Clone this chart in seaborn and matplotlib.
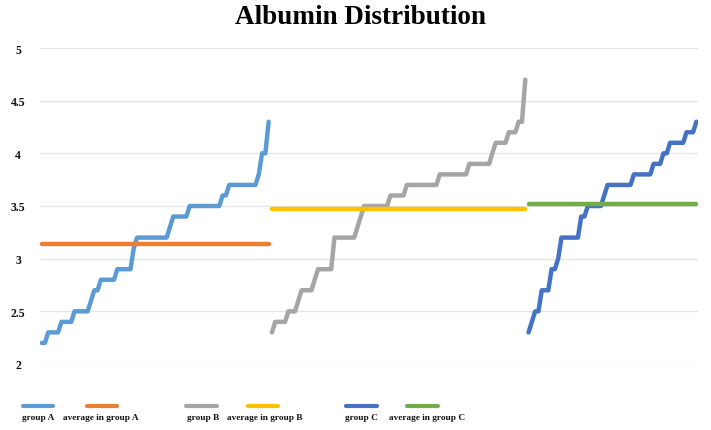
import matplotlib
matplotlib.use("Agg")
import matplotlib.pyplot as plt
import pandas as pd
import seaborn as sns
from matplotlib.lines import Line2D

# ---- data ----
group_a = [2.2, 2.2,
           2.3, 2.3, 2.3, 2.3,
           2.4, 2.4, 2.4, 2.4,
           2.5, 2.5, 2.5, 2.5, 2.5,
           2.6,
           2.7, 2.7,
           2.8, 2.8, 2.8, 2.8, 2.8,
           2.9, 2.9, 2.9, 2.9, 2.9,
           3.1,
           3.2, 3.2, 3.2, 3.2, 3.2, 3.2, 3.2, 3.2, 3.2, 3.2,
           3.3,
           3.4, 3.4, 3.4, 3.4, 3.4,
           3.5, 3.5, 3.5, 3.5, 3.5, 3.5, 3.5, 3.5, 3.5, 3.5,
           3.6, 3.6,
           3.7, 3.7, 3.7, 3.7, 3.7, 3.7, 3.7, 3.7, 3.7,
           3.8,
           4.0, 4.0,
           4.3]
group_b = [2.3,
           2.4, 2.4, 2.4, 2.4,
           2.5, 2.5, 2.5,
           2.6,
           2.7, 2.7, 2.7, 2.7,
           2.8,
           2.9, 2.9, 2.9, 2.9, 2.9,
           3.2, 3.2, 3.2, 3.2, 3.2, 3.2, 3.2,
           3.3, 3.4,
           3.5, 3.5, 3.5, 3.5, 3.5, 3.5, 3.5, 3.5,
           3.6, 3.6, 3.6, 3.6, 3.6,
           3.7, 3.7, 3.7, 3.7, 3.7, 3.7, 3.7, 3.7, 3.7, 3.7,
           3.8, 3.8, 3.8, 3.8, 3.8, 3.8, 3.8, 3.8, 3.8,
           3.9, 3.9, 3.9, 3.9, 3.9, 3.9, 3.9,
           4.0,
           4.1, 4.1, 4.1, 4.1,
           4.2, 4.2, 4.2,
           4.3, 4.3,
           4.7]
group_c = [2.3, 2.4,
           2.5, 2.5,
           2.7, 2.7, 2.7,
           2.9, 2.9, 3.0,
           3.2, 3.2, 3.2, 3.2, 3.2, 3.2,
           3.4, 3.4,
           3.5, 3.5, 3.5, 3.5, 3.5,
           3.6,
           3.7, 3.7, 3.7, 3.7, 3.7, 3.7, 3.7, 3.7,
           3.8, 3.8, 3.8, 3.8, 3.8, 3.8,
           3.9, 3.9, 3.9,
           4.0, 4.0,
           4.1, 4.1, 4.1, 4.1, 4.1,
           4.2, 4.2, 4.2,
           4.3]
avg_values = [3.14, 3.47, 3.52]
series_names = ["group A", "average in group A",
                "group B", "average in group B",
                "group C", "average in group C"]
colors = ["#5B9BD5", "#ED7D31", "#A5A5A5", "#FFC000", "#4472C4", "#70AD47"]
y_ticks = [2, 2.5, 3, 3.5, 4, 4.5, 5]
y_tick_labels = ["2", "2.5", "3", "3.5", "4", "4.5", "5"]
title = "Albumin Distribution"

# ---- style ----
sns.set_theme(style="white")
plt.rcParams["font.family"] = ["Liberation Serif", "DejaVu Serif"]

# ---- long table ----
rows = []
offset = 0
for k, (grp, avg) in enumerate(zip([group_a, group_b, group_c], avg_values)):
    for j, v in enumerate(grp):
        rows.append((offset + j, v, series_names[2 * k]))
        rows.append((offset + j, avg, series_names[2 * k + 1]))
    offset += len(grp)
df = pd.DataFrame(rows, columns=["idx", "value", "series"])
n_total = offset

W, H = 711, 431
fig = plt.figure(figsize=(W / 100, H / 100), dpi=100)
ax = fig.add_axes([40 / W, 1 - 365 / H, 658 / W, (365 - 49) / H])

for y in y_ticks:
    ax.axhline(y, color="#e4e4e4", lw=0.9, zorder=0)

sns.lineplot(data=df, x="idx", y="value", hue="series", hue_order=series_names,
             palette=colors, linewidth=3.2, estimator=None, legend=False, ax=ax,
             solid_capstyle="round", solid_joinstyle="round")

ax.set_xlim(-0.5, n_total - 0.5)
ax.set_ylim(2, 5)
ax.set_xticks([])
ax.set_xlabel("")
ax.set_ylabel("")
ax.set_yticks(y_ticks)
ax.set_yticklabels(y_tick_labels)
ax.tick_params(axis="y", length=0, pad=15.8)
for lbl in ax.get_yticklabels():
    lbl.set_horizontalalignment("center")
    lbl.set_fontweight("bold")
    lbl.set_fontsize(8.5)
    lbl.set_color("#111111")
for s in ax.spines.values():
    s.set_visible(False)

fig.text(360 / W, 1 - 24 / H, title, ha="center", va="baseline",
         fontsize=19.5, fontweight="bold", color="#000000")

# ---- legend (Excel-style, labels under line samples) ----
leg_lines = [(23, 53), (87, 117), (186, 217), (248, 278), (346, 377), (407, 438)]
leg_label_x = [38, 101, 203, 265, 361, 427]
for (x0, x1), lx, name, c in zip(leg_lines, leg_label_x, series_names, colors):
    fig.add_artist(Line2D([x0 / W, x1 / W], [1 - 407 / H, 1 - 407 / H],
                          transform=fig.transFigure, color=c, lw=3.0,
                          solid_capstyle="round"))
    fig.text(lx / W, 1 - 418 / H, name, ha="center", va="center",
             fontsize=6.7, fontweight="bold", color="#111111")

fig.savefig("out.png", dpi=100)
